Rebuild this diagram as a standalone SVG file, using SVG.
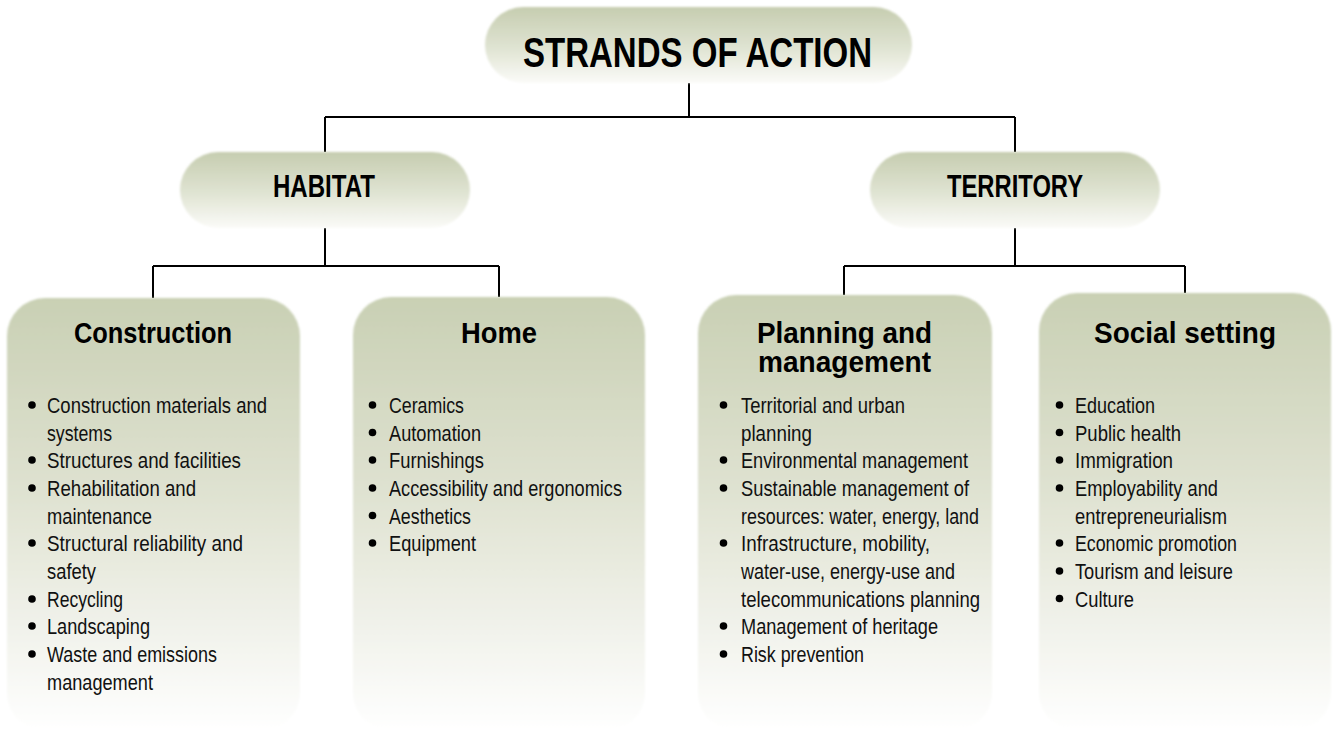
<svg xmlns="http://www.w3.org/2000/svg" width="1333" height="731" viewBox="0 0 1333 731">
<defs>
<linearGradient id="gPill" x1="0" y1="0" x2="0" y2="1">
<stop offset="0" stop-color="#c6cdb0"/>
<stop offset="0.55" stop-color="#e0e4d3"/>
<stop offset="1" stop-color="#fbfbf8"/>
</linearGradient>
<linearGradient id="gBox" x1="0" y1="0" x2="0" y2="1">
<stop offset="0" stop-color="#c9d0b4"/>
<stop offset="0.45" stop-color="#dfe2d1"/>
<stop offset="0.8" stop-color="#f3f4ee"/>
<stop offset="1" stop-color="#ffffff"/>
</linearGradient>
<filter id="soft" x="-5%" y="-5%" width="110%" height="110%">
<feGaussianBlur stdDeviation="0.8"/>
</filter>
</defs>
<style>
.pill{fill:url(#gPill);filter:url(#soft)}
.box{fill:url(#gBox);filter:url(#soft)}
.conn{stroke:#000;stroke-width:2;fill:none}
.h1{font-family:"Liberation Sans",Arial,sans-serif;font-weight:bold;font-size:43px;fill:#000}
.h2{font-family:"Liberation Sans",Arial,sans-serif;font-weight:bold;font-size:31px;fill:#000}
.h3{font-family:"Liberation Sans",Arial,sans-serif;font-weight:bold;font-size:29px;fill:#000}
.it{font-family:"Liberation Sans",Arial,sans-serif;font-size:22px;fill:#111}
.dot{fill:#000}
</style>
<rect width="1333" height="731" fill="#ffffff"/>

<g id="connectors">
<path class="conn" d="M689,83 V117 M325,117 H1015 M325,117 V152 M1015,117 V152"/>
<path class="conn" d="M325,228 V266 M153,266 H499 M153,266 V298 M499,266 V297"/>
<path class="conn" d="M1015,228 V266 M844,266 H1185 M844,266 V295 M1185,266 V293"/>
</g>

<g id="root">
<rect class="pill" x="485" y="7" width="427" height="76" rx="38"/>
<text class="h1" x="523" y="67" textLength="349" lengthAdjust="spacingAndGlyphs">STRANDS OF ACTION</text>
</g>

<g id="habitat">
<rect class="pill" x="180" y="152" width="290" height="76" rx="38"/>
<text class="h2" x="273" y="197" textLength="102" lengthAdjust="spacingAndGlyphs">HABITAT</text>
</g>

<g id="territory">
<rect class="pill" x="870" y="152" width="290" height="76" rx="38"/>
<text class="h2" x="947" y="197" textLength="136" lengthAdjust="spacingAndGlyphs">TERRITORY</text>
</g>

<g id="construction">
<rect class="box" x="7" y="298" width="293" height="433" rx="38"/>
<text class="h3" x="74" y="343" textLength="158" lengthAdjust="spacingAndGlyphs">Construction</text>
<circle class="dot" cx="32" cy="405" r="3.8"/>
<circle class="dot" cx="32" cy="460" r="3.8"/>
<circle class="dot" cx="32" cy="488" r="3.8"/>
<circle class="dot" cx="32" cy="543" r="3.8"/>
<circle class="dot" cx="32" cy="599" r="3.8"/>
<circle class="dot" cx="32" cy="626" r="3.8"/>
<circle class="dot" cx="32" cy="654" r="3.8"/>
<text class="it" x="47" y="413" textLength="220" lengthAdjust="spacingAndGlyphs">Construction materials and</text>
<text class="it" x="47" y="440.5" textLength="65" lengthAdjust="spacingAndGlyphs">systems</text>
<text class="it" x="47" y="468" textLength="194" lengthAdjust="spacingAndGlyphs">Structures and facilities</text>
<text class="it" x="47" y="496" textLength="149" lengthAdjust="spacingAndGlyphs">Rehabilitation and</text>
<text class="it" x="47" y="523.5" textLength="105" lengthAdjust="spacingAndGlyphs">maintenance</text>
<text class="it" x="47" y="551" textLength="196" lengthAdjust="spacingAndGlyphs">Structural reliability and</text>
<text class="it" x="47" y="578.5" textLength="49" lengthAdjust="spacingAndGlyphs">safety</text>
<text class="it" x="47" y="606.5" textLength="76" lengthAdjust="spacingAndGlyphs">Recycling</text>
<text class="it" x="47" y="634" textLength="103" lengthAdjust="spacingAndGlyphs">Landscaping</text>
<text class="it" x="47" y="662" textLength="170" lengthAdjust="spacingAndGlyphs">Waste and emissions</text>
<text class="it" x="47" y="689.5" textLength="106" lengthAdjust="spacingAndGlyphs">management</text>
</g>

<g id="home">
<rect class="box" x="353" y="297" width="292" height="434" rx="38"/>
<text class="h3" x="461" y="343" textLength="76" lengthAdjust="spacingAndGlyphs">Home</text>
<circle class="dot" cx="372.5" cy="405" r="3.8"/>
<circle class="dot" cx="372.5" cy="432.5" r="3.8"/>
<circle class="dot" cx="372.5" cy="460" r="3.8"/>
<circle class="dot" cx="372.5" cy="488" r="3.8"/>
<circle class="dot" cx="372.5" cy="515.5" r="3.8"/>
<circle class="dot" cx="372.5" cy="543" r="3.8"/>
<text class="it" x="389" y="413" textLength="75" lengthAdjust="spacingAndGlyphs">Ceramics</text>
<text class="it" x="389" y="440.5" textLength="92" lengthAdjust="spacingAndGlyphs">Automation</text>
<text class="it" x="389" y="468" textLength="95" lengthAdjust="spacingAndGlyphs">Furnishings</text>
<text class="it" x="389" y="496" textLength="233" lengthAdjust="spacingAndGlyphs">Accessibility and ergonomics</text>
<text class="it" x="389" y="523.5" textLength="82" lengthAdjust="spacingAndGlyphs">Aesthetics</text>
<text class="it" x="389" y="551" textLength="87" lengthAdjust="spacingAndGlyphs">Equipment</text>
</g>

<g id="planning">
<rect class="box" x="698" y="295" width="294" height="436" rx="38"/>
<text class="h3" x="757" y="343" textLength="175" lengthAdjust="spacingAndGlyphs">Planning and</text>
<text class="h3" x="758" y="372" textLength="173" lengthAdjust="spacingAndGlyphs">management</text>
<circle class="dot" cx="723.5" cy="405" r="3.8"/>
<circle class="dot" cx="723.5" cy="460" r="3.8"/>
<circle class="dot" cx="723.5" cy="488" r="3.8"/>
<circle class="dot" cx="723.5" cy="543" r="3.8"/>
<circle class="dot" cx="723.5" cy="626" r="3.8"/>
<circle class="dot" cx="723.5" cy="654" r="3.8"/>
<text class="it" x="741" y="413" textLength="164" lengthAdjust="spacingAndGlyphs">Territorial and urban</text>
<text class="it" x="741" y="440.5" textLength="71" lengthAdjust="spacingAndGlyphs">planning</text>
<text class="it" x="741" y="468" textLength="227" lengthAdjust="spacingAndGlyphs">Environmental management</text>
<text class="it" x="741" y="496" textLength="228" lengthAdjust="spacingAndGlyphs">Sustainable management of</text>
<text class="it" x="741" y="523.5" textLength="238" lengthAdjust="spacingAndGlyphs">resources: water, energy, land</text>
<text class="it" x="741" y="551" textLength="189" lengthAdjust="spacingAndGlyphs">Infrastructure, mobility,</text>
<text class="it" x="741" y="578.5" textLength="214" lengthAdjust="spacingAndGlyphs">water-use, energy-use and</text>
<text class="it" x="741" y="606.5" textLength="239" lengthAdjust="spacingAndGlyphs">telecommunications planning</text>
<text class="it" x="741" y="634" textLength="197" lengthAdjust="spacingAndGlyphs">Management of heritage</text>
<text class="it" x="741" y="662" textLength="123" lengthAdjust="spacingAndGlyphs">Risk prevention</text>
</g>

<g id="social">
<rect class="box" x="1039" y="293" width="292" height="438" rx="38"/>
<text class="h3" x="1094" y="343" textLength="182" lengthAdjust="spacingAndGlyphs">Social setting</text>
<circle class="dot" cx="1059.5" cy="405" r="3.8"/>
<circle class="dot" cx="1059.5" cy="432.5" r="3.8"/>
<circle class="dot" cx="1059.5" cy="460" r="3.8"/>
<circle class="dot" cx="1059.5" cy="488" r="3.8"/>
<circle class="dot" cx="1059.5" cy="543" r="3.8"/>
<circle class="dot" cx="1059.5" cy="571" r="3.8"/>
<circle class="dot" cx="1059.5" cy="598.5" r="3.8"/>
<text class="it" x="1075" y="413" textLength="80" lengthAdjust="spacingAndGlyphs">Education</text>
<text class="it" x="1075" y="440.5" textLength="106" lengthAdjust="spacingAndGlyphs">Public health</text>
<text class="it" x="1075" y="468" textLength="98" lengthAdjust="spacingAndGlyphs">Immigration</text>
<text class="it" x="1075" y="496" textLength="143" lengthAdjust="spacingAndGlyphs">Employability and</text>
<text class="it" x="1075" y="523.5" textLength="152" lengthAdjust="spacingAndGlyphs">entrepreneurialism</text>
<text class="it" x="1075" y="551" textLength="162" lengthAdjust="spacingAndGlyphs">Economic promotion</text>
<text class="it" x="1075" y="578.5" textLength="158" lengthAdjust="spacingAndGlyphs">Tourism and leisure</text>
<text class="it" x="1075" y="606.5" textLength="59" lengthAdjust="spacingAndGlyphs">Culture</text>
</g>
</svg>
